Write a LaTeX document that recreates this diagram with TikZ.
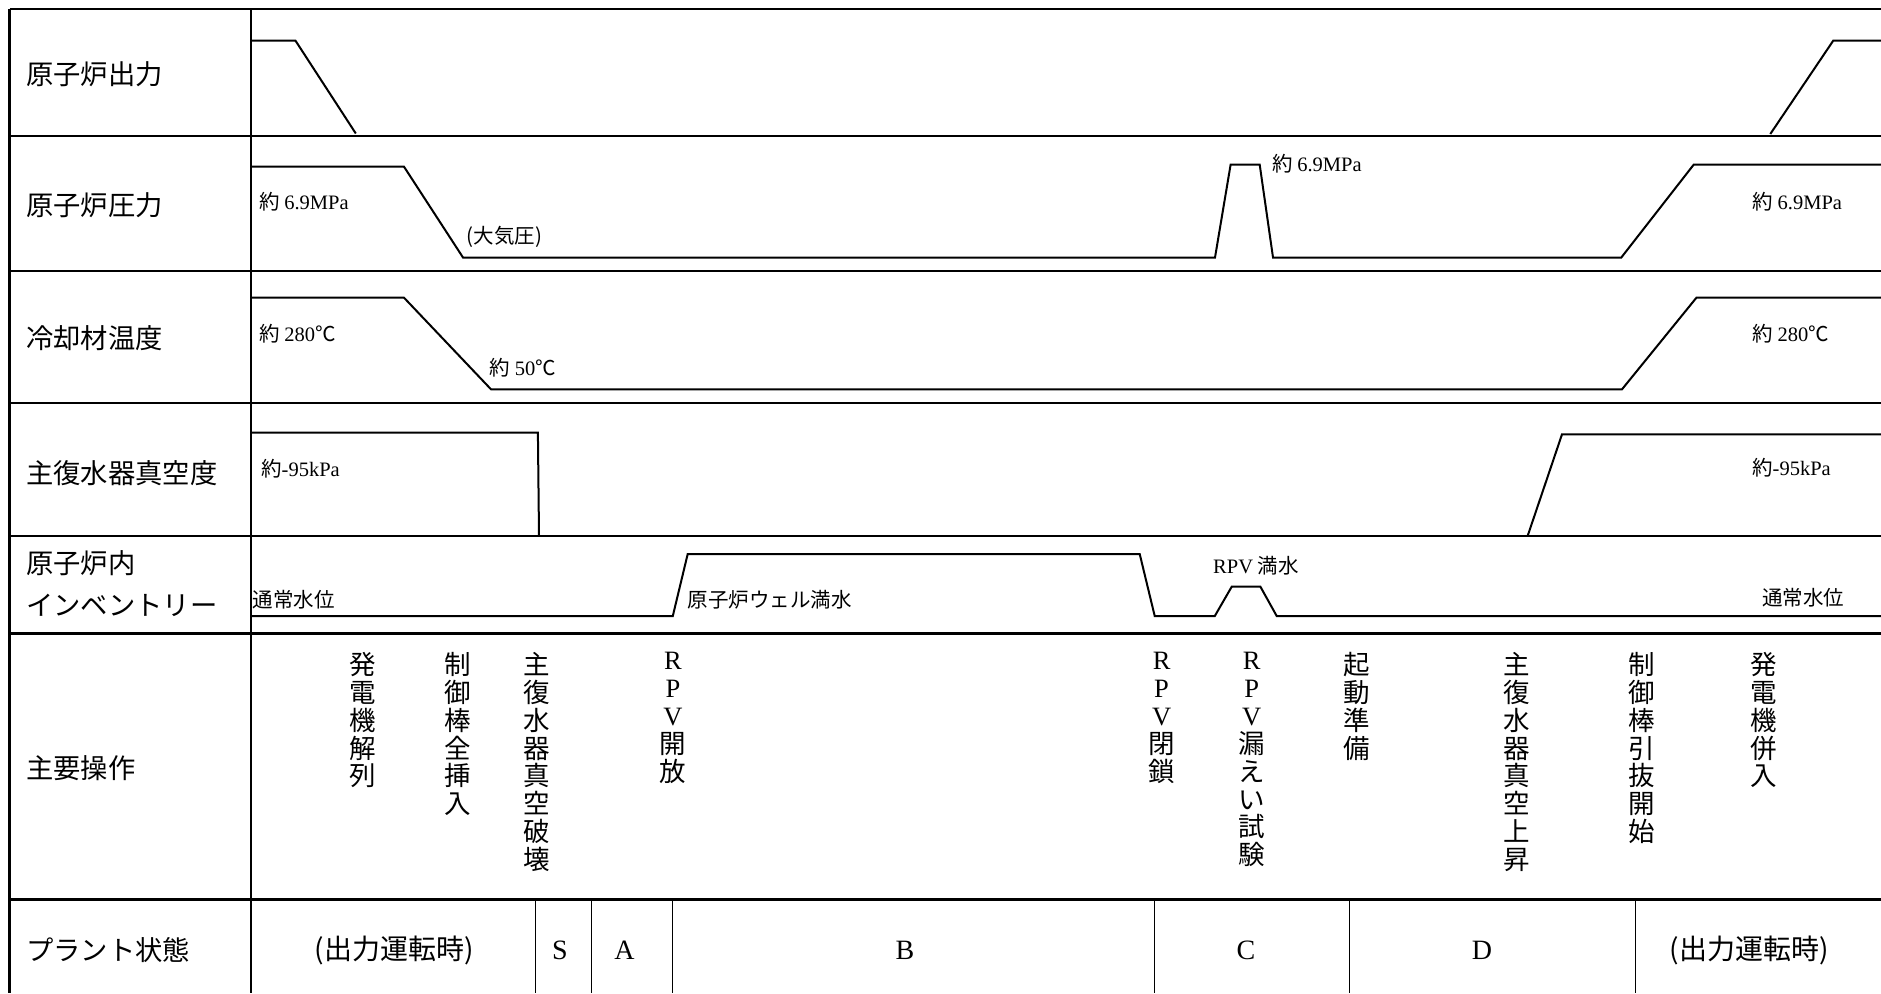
\documentclass[tikz,border=0pt]{standalone}
\usepackage{fontspec}
\setmainfont{Noto Sans CJK JP}
\newfontfamily\lat{Liberation Serif}
\begin{document}
\begin{tikzpicture}[x=1pt,y=-1pt,
  frame/.style={line width=2.4pt},
  curve/.style={line width=2pt, line join=miter},
  divider/.style={line width=1pt},
  rowlabel/.style={anchor=west, inner sep=0pt, font=\fontsize{27.3}{28}\selectfont},
  val/.style={anchor=west, inner sep=0pt, font=\fontsize{20.5}{22}\selectfont},
  oper/.style={anchor=north, inner sep=0pt, align=center, font=\fontsize{26.5}{27.9}\selectfont},
  state/.style={inner sep=0pt, font=\fontsize{28}{30}\selectfont}]
\useasboundingbox (0,0) rectangle (1881,993);
% frame
\draw[frame] (9.6,9) -- (1881,9);
\draw[frame] (9.6,9) -- (9.6,993);
\draw[frame] (251,9) -- (251,993);
\foreach \yy in {135.7,270.7,402.7,535.7,633.3,899.5}
  \draw[frame] (9.6,\yy) -- (1881,\yy);
% plant state dividers
\foreach \xx in {535,591.3,672.8,1154.7,1349.5,1635.5}
  \draw[divider] (\xx,899.5) -- (\xx,993);
% row labels
\node[rowlabel] (l1) at (26,74) {原子炉出力};
\node[rowlabel] (l2) at (26,205) {原子炉圧力};
\node[rowlabel] (l3) at (26,338) {冷却材温度};
\node[rowlabel] (l4) at (26,472.7) {主復水器真空度};
\node[rowlabel] (l5a) at (26,563) {原子炉内};
\node[rowlabel] (l5b) at (26,605) {インベントリー};
\node[rowlabel] (l6) at (26,768) {主要操作};
\node[rowlabel] (l7) at (26,950) {プラント状態};
% curves
\draw[curve] (251,40.7) -- (295.5,40.7) -- (355.8,133.5);
\draw[curve] (1770.3,134) -- (1833.2,40.7) -- (1881,40.7);
\draw[curve] (251,166.7) -- (404,166.7) -- (463,257.5) -- (1215,257.5) -- (1230.6,164.7) -- (1259.7,164.7) -- (1273,257.5) -- (1621.3,257.5) -- (1693.8,164.5) -- (1881,164.5);
\draw[curve] (251,297.7) -- (404,297.7) -- (491,389.3) -- (1622,389.3) -- (1696.4,297.7) -- (1881,297.7);
\draw[curve] (251,432.7) -- (537.9,432.7) -- (539,535.7);
\draw[curve] (1527.7,535.7) -- (1562,434.3) -- (1881,434.3);
\draw[curve] (251,616) -- (672.8,616) -- (687.7,554) -- (1139.7,554) -- (1154.7,616) -- (1214.8,616) -- (1231.7,586.7) -- (1260.4,586.7) -- (1276.7,616) -- (1881,616);
% value labels
\node[val] (v1) at (259,201.7) {約 {\lat 6.9MPa}};
\node[val] (v2) at (466.5,236.7) {(大気圧)};
\node[val] (v3) at (1272,164) {約 {\lat 6.9MPa}};
\node[val] (v4) at (1752.4,201.7) {約 {\lat 6.9MPa}};
\node[val] (v5) at (259,334) {約 {\lat 280}℃};
\node[val] (v6) at (489.7,368) {約 {\lat 50}℃};
\node[val] (v7) at (1752.4,334) {約 {\lat 280}℃};
\node[val] (v8) at (261,469) {約{\lat -95kPa}};
\node[val] (v9) at (1752,468) {約{\lat -95kPa}};
\node[val] (v10) at (252.6,599.3) {通常水位};
\node[val] (v11) at (687.7,599.3) {原子炉ウェル満水};
\node[val] (v12) at (1213,566) {{\lat RPV} 満水};
\node[val] (v13) at (1762,598) {通常水位};
% operations (vertical text)
\node[oper] (o1) at (362.8,652) {発\\電\\機\\解\\列};
\node[oper] (o2) at (457.5,652) {制\\御\\棒\\全\\挿\\入};
\node[oper] (o3) at (537,652) {主\\復\\水\\器\\真\\空\\破\\壊};
\node[oper] (o4) at (673,652) {{\lat R}\\{\lat P}\\{\lat V}\\開\\放};
\node[oper] (o5) at (1161.6,652) {{\lat R}\\{\lat P}\\{\lat V}\\閉\\鎖};
\node[oper] (o6) at (1251.7,652) {{\lat R}\\{\lat P}\\{\lat V}\\漏\\え\\い\\試\\験};
\node[oper] (o7) at (1357,652) {起\\動\\準\\備};
\node[oper] (o8) at (1517,652) {主\\復\\水\\器\\真\\空\\上\\昇};
\node[oper] (o9) at (1642,652) {制\\御\\棒\\引\\抜\\開\\始};
\node[oper] (o10) at (1764,652) {発\\電\\機\\併\\入};
% plant states
\node[state] (s1) at (394,950) {(出力運転時)};
\node[state] (s2) at (560,950) {\lat S};
\node[state] (s3) at (624.6,950) {\lat A};
\node[state] (s4) at (905,950) {\lat B};
\node[state] (s5) at (1246,950) {\lat C};
\node[state] (s6) at (1482,950) {\lat D};
\node[state] (s7) at (1749,950) {(出力運転時)};
\end{tikzpicture}
\end{document}
